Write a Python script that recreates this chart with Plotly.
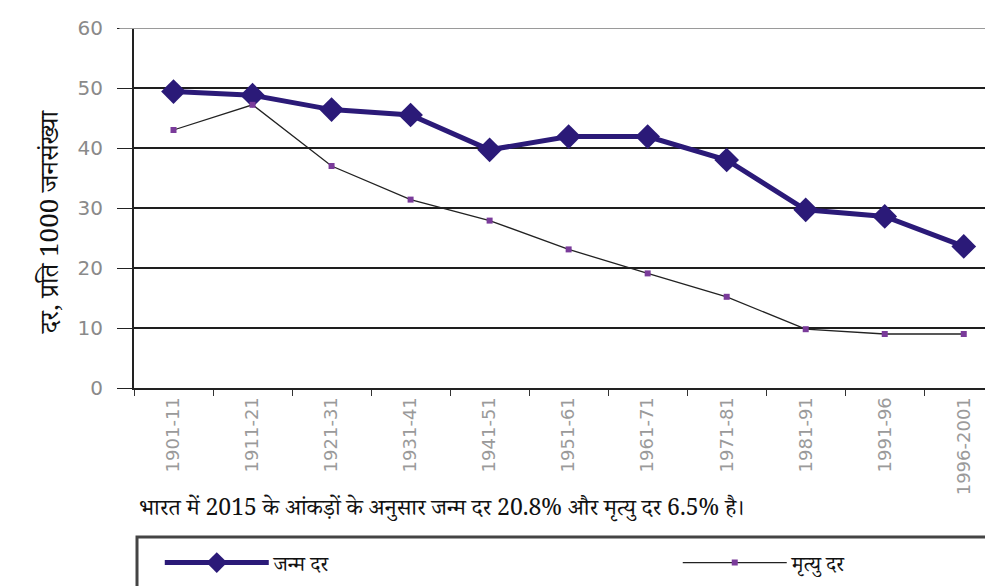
import plotly.graph_objects as go

# ------------------------------------------------------------------ data
periods = ["1901-11", "1911-21", "1921-31", "1931-41", "1941-51", "1951-61",
           "1961-71", "1971-81", "1981-91", "1991-96", "1996-2001"]
birth_rate = [49.4, 48.8, 46.4, 45.5, 39.7, 41.9, 41.9, 38.0, 29.7, 28.6, 23.6]
death_rate = [43.0, 47.2, 37.0, 31.4, 27.9, 23.1, 19.1, 15.2, 9.8, 9.0, 9.0]
y_ticks = [0, 10, 20, 30, 40, 50, 60]

y_title = "दर, प्रति 1000 जनसंख्या"
note = "भारत में 2015 के आंकड़ों के अनुसार जन्म दर 20.8% और मृत्यु दर 6.5% है।"
birth_name = "जन्म दर"
death_name = "मृत्यु दर"

# ------------------------------------------------------------------ style
INK = "#2B1A78"
DOT = "#7A3B9A"
HINDI = "Noto Serif Devanagari, Noto Sans Devanagari, Lohit Devanagari, FreeSerif, serif"
NUM = "DejaVu Sans, Verdana, sans-serif"

fig = go.Figure()
fig.add_trace(go.Scatter(
    x=periods, y=birth_rate, name=birth_name, mode="lines+markers",
    line=dict(color=INK, width=5),
    marker=dict(symbol="diamond", size=19, color=INK),
    legend="legend",
))
fig.add_trace(go.Scatter(
    x=periods, y=death_rate, name=death_name, mode="lines+markers",
    line=dict(color="#222222", width=1.3),
    marker=dict(symbol="square", size=6, color=DOT),
    legend="legend2",
))

leg = dict(orientation="h", xanchor="left", y=-0.486, yanchor="middle",
           itemwidth=104, font=dict(family=HINDI, size=21, color="#111111"),
           bgcolor="rgba(0,0,0,0)")

# the page body adds 8px, so the figure is 8px smaller and margins shifted
fig.update_layout(
    width=985, height=578,
    margin=dict(l=126, r=0, t=20, b=198),
    paper_bgcolor="white", plot_bgcolor="white",
    showlegend=True,
    legend=dict(leg, x=0.030),
    legend2=dict(leg, x=0.633),
)

fig.update_xaxes(
    type="category", range=[-0.5, 10.37],
    tickson="boundaries", ticks="outside", ticklen=6, tickcolor="#333333",
    tickangle=-90, showgrid=False,
    showline=True, linecolor="#222222", linewidth=2,
    tickfont=dict(family=NUM, size=18, color="#9a9a9a"),
)
fig.update_yaxes(
    range=[0, 60], tickvals=y_ticks, ticks="outside", ticklen=15,
    tickcolor="#222222", ticklabelstandoff=10,
    showgrid=True, gridcolor="#1e1e1e", gridwidth=2,
    zeroline=False, showline=True, linecolor="#222222", linewidth=2,
    tickfont=dict(family=NUM, size=20, color="#8a8a8a"),
)

# lighter top rule at 60
fig.add_shape(type="line", xref="paper", yref="y", x0=-0.017, x1=1, y0=60, y1=60,
              line=dict(color="#9a9a9a", width=2))

# y-axis title
fig.add_annotation(text=y_title, xref="paper", yref="paper", x=-0.118, y=0.46,
                   textangle=-90, showarrow=False,
                   font=dict(family=HINDI, size=26, color="#111111"))

# footnote
fig.add_annotation(text=note, xref="paper", yref="paper", x=0.003, y=-0.344,
                   xanchor="left", yanchor="middle", showarrow=False,
                   font=dict(family=HINDI, size=23, color="#111111"))

# open legend frame running off the page
fig.add_shape(type="rect", xref="paper", yref="paper",
              x0=0.0035, x1=1.05, y0=-0.414, y1=-0.7,
              line=dict(color="#444444", width=3))

fig.write_html("out.html")
